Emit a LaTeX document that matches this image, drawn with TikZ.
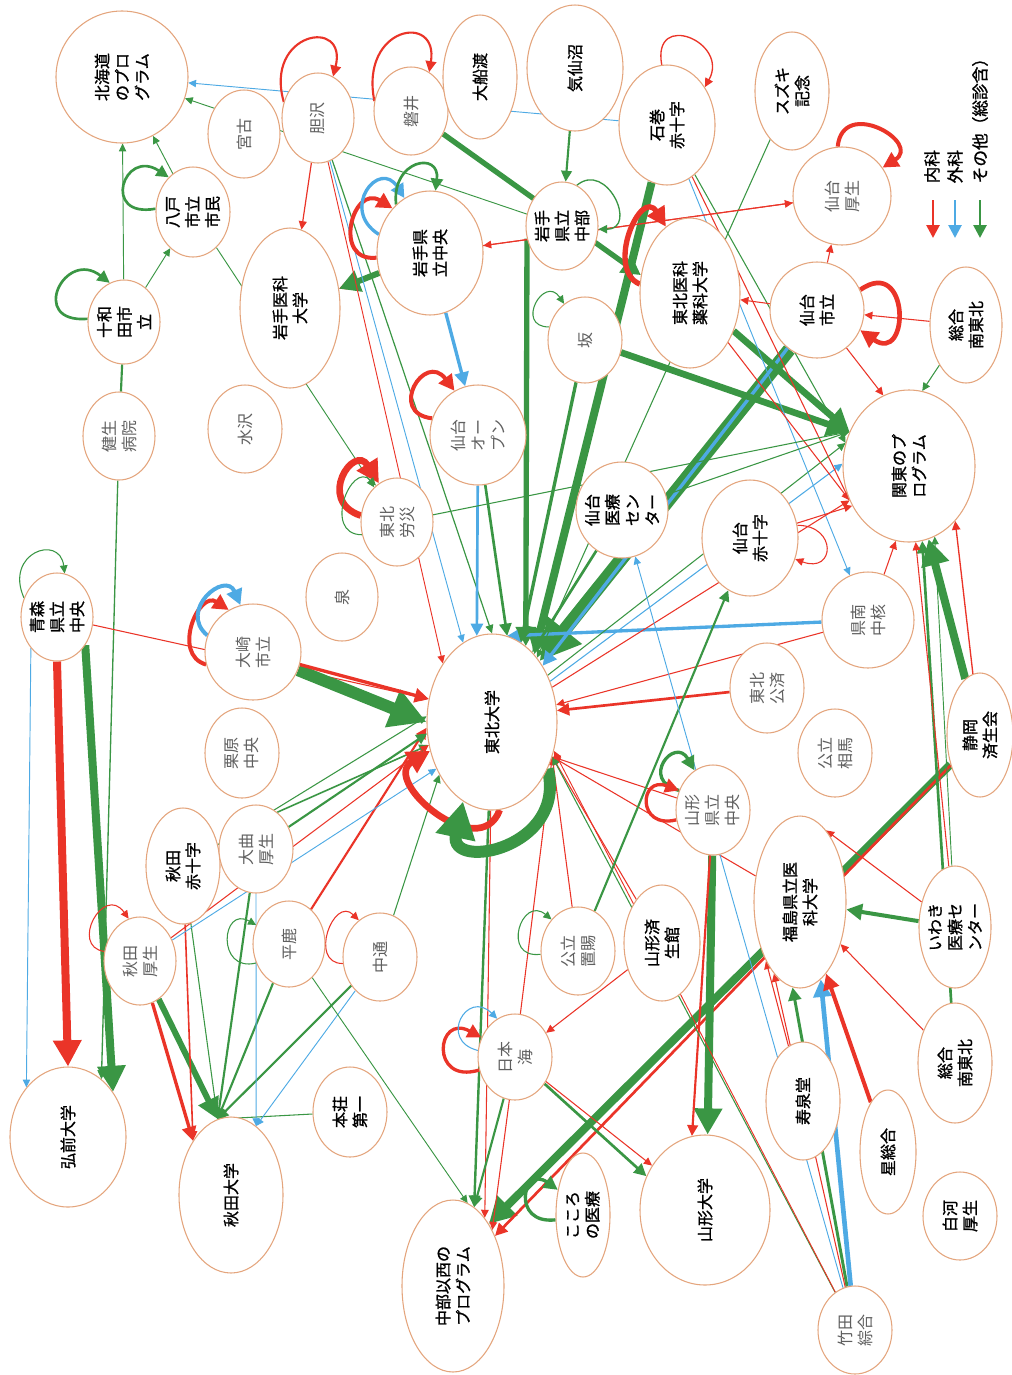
\documentclass[tikz,border=0pt]{standalone}
\usepackage{fontspec}
\setmainfont{Noto Sans CJK JP}
\newfontfamily\jpb{Noto Sans CJK JP}[FakeBold=1.2]
\usetikzlibrary{shapes.geometric,arrows.meta}
\pgfdeclarelayer{bg}
\pgfsetlayers{bg,main}
\definecolor{rd}{RGB}{234,52,40}
\definecolor{bl}{RGB}{78,170,228}
\definecolor{gn}{RGB}{58,150,68}
\definecolor{nb}{RGB}{228,165,125}
\definecolor{tg}{RGB}{95,95,95}
\newcommand\lbl{\fontsize{12pt}{15pt}\selectfont}
\tikzset{
 hn/.style={ellipse, draw=nb, line width=0.8pt, fill=white, inner sep=0pt},
 ed/.style={line width=#1, -{Triangle[length=4pt 2.6, width=3.5pt 2.8]}},
 ln/.style={line width=#1},
 R/.style={draw=rd}, Bl/.style={draw=bl}, Gn/.style={draw=gn},
}
% name, x, y, rx, ry, colour, text
\newcommand\HN[7]{%
 \node[hn, minimum width={#4*1.5pt}, minimum height={#5*1.5pt}] (#1) at (#2,#3) {};
 \node[rotate=90, align=center, text=#6, font=\lbl\jpb] at (#2,#3) {#7};}
\newcommand\HG[7]{%
 \node[hn, minimum width={#4*1.5pt}, minimum height={#5*1.5pt}] (#1) at (#2,#3) {};
 \node[rotate=90, align=center, text=#6, font=\lbl] at (#2,#3) {#7};}
\begin{document}
\begin{tikzpicture}[x=0.75pt,y=-0.75pt]
\useasboundingbox (0,0) rectangle (1012,1375);
% nodes
\HN{hok}{122}{77}{66}{66}{black}{北海道\\のプロ\\グラム}
\HG{miy}{244}{134}{36}{44}{tg}{宮古}
\HG{isa}{318}{118}{36}{45}{tg}{胆沢}
\HG{iwai}{411}{111}{37}{44}{tg}{磐井}
\HN{ofu}{480}{77}{37}{62}{black}{大船渡}
\HN{kes}{575}{68}{48}{63}{black}{気仙沼}
\HN{ishi}{667}{125}{48}{60}{black}{石巻\\赤十字}
\HN{suz}{792}{91}{37}{59}{black}{スズキ\\記念}
\HG{sko}{842}{196}{49}{49}{tg}{仙台\\厚生}
\HN{ichu}{562}{226}{36}{44}{black}{岩手\\県立\\中部}
\HN{icen}{430}{253}{53}{62}{black}{岩手県\\立中央}
\HN{imed}{290}{308}{50}{80}{black}{岩手医科\\大学}
\HN{hachi}{193}{212}{37}{45}{black}{八戸\\市立\\市民}
\HN{towa}{124}{322}{36}{42}{black}{十和\\田市\\立}
\HG{ken}{119}{436}{36}{44}{tg}{健生\\病院}
\HG{mizu}{245}{429}{37}{44}{tg}{水沢}
\HN{aocen}{57}{617}{36}{44}{black}{青森\\県立\\中央}
\HG{osaki}{253}{652}{48}{48}{tg}{大崎\\市立}
\HG{rosai}{397}{522}{36}{44}{tg}{東北\\労災}
\HG{sopen}{478}{435}{48}{50}{tg}{仙台\\オー\\プン}
\HG{izumi}{342}{597}{36}{44}{tg}{泉}
\HG{saka}{585}{340}{37}{43}{tg}{坂}
\HN{tmp}{690}{293}{50}{75}{black}{東北医科\\薬科大学}
\HN{sshi}{817}{310}{47}{48}{black}{仙台\\市立}
\HN{sne1}{966}{325}{36}{58}{black}{総合\\南東北}
\HN{kanto}{909}{466}{66}{76}{black}{関東のプ\\ログラム}
\HN{siryo}{622}{510}{46}{48}{black}{仙台\\医療\\セン\\ター}
\HN{sseki}{750}{538}{48}{58}{black}{仙台\\赤十字}
\HG{kennan}{868}{620}{46}{48}{tg}{県南\\中核}
\HG{tkosai}{767}{688}{37}{45}{tg}{東北\\公済}
\HG{soma}{835}{753}{37}{44}{tg}{公立\\相馬}
\HN{shizu}{980}{735}{33}{62}{black}{静岡\\済生会}
\HG{yken}{713}{810}{37}{45}{tg}{山形\\県立\\中央}
\HN{fmed}{800}{902}{46}{86}{black}{福島県立医\\科大学}
\HN{iwaki}{955}{927}{36}{61}{black}{いわき\\医療セ\\ンター}
\HN{sne2}{955}{1063}{37}{60}{black}{総合\\南東北}
\HN{jusen}{803}{1101}{37}{59}{black}{寿泉堂}
\HN{hoshi}{888}{1152}{28}{62}{black}{星総合}
\HN{shira}{960}{1216}{37}{44}{black}{白河\\厚生}
\HG{take}{855}{1330}{37}{44}{tg}{竹田\\綜合}
\HN{yamadai}{705}{1210}{65}{75}{black}{山形大学}
\HN{ysai}{662}{943}{38}{58}{black}{山形済\\生館}
\HG{okit}{578}{951}{37}{44}{tg}{公立\\置賜}
\HG{naka}{380}{957}{37}{44}{tg}{中通}
\HG{nihon}{515}{1057}{37}{43}{tg}{日本\\海}
\HN{honjo}{350}{1112}{37}{45}{black}{本荘\\第一}
\HN{chubu}{453}{1286}{51}{86}{black}{中部以西の\\プログラム}
\HN{kokoro}{583}{1215}{27}{62}{black}{こころ\\の医療}
\HN{akidai}{231}{1195}{52}{78}{black}{秋田大学}
\HN{hiro}{68}{1137}{58}{70}{black}{弘前大学}
\HG{akiko}{140}{961}{36}{44}{tg}{秋田\\厚生}
\HN{akiseki}{183}{866}{37}{58}{black}{秋田\\赤十字}
\HG{omag}{256}{849}{37}{44}{tg}{大曲\\厚生}
\HG{kuri}{242}{753}{37}{45}{tg}{栗原\\中央}
\HG{hira}{289}{944}{36}{43}{tg}{平鹿}
\HN{tohoku}{492}{722}{65}{88}{black}{東北大学}
% legend
\coordinate (lr1) at (933,200); \coordinate (lr2) at (933,238);
\coordinate (lb1) at (955,200); \coordinate (lb2) at (955,238);
\coordinate (lg1) at (980,200); \coordinate (lg2) at (980,238);
\draw[R, ed=2.2pt] (lr1) -- (lr2);
\draw[Bl, ed=2.2pt] (lb1) -- (lb2);
\draw[Gn, ed=2.2pt] (lg1) -- (lg2);
\node[rotate=90, anchor=west, font=\fontsize{12.5pt}{14pt}\selectfont\jpb] (t1) at (932,188) {内科};
\node[rotate=90, anchor=west, font=\fontsize{12.5pt}{14pt}\selectfont\jpb] (t2) at (955,188) {外科};
\node[rotate=90, anchor=west, font=\fontsize{12.5pt}{14pt}\selectfont\jpb] (t3) at (980,188) {その他（総診含）};
\begin{pgfonlayer}{bg}
% top-left
\draw[Bl, ed=0.7pt] (ishi) -- (hok);
\draw[Gn, ed=0.7pt] (ichu) -- (hok);
\draw[Gn, ed=0.7pt] (towa) -- (hok);
\draw[Gn, ed=0.7pt] (towa) -- (hachi);
\draw[Gn, ed=0.7pt] (hachi) -- (hok);
\draw[Gn, ln=1.6pt] (towa) -- (ken);
\draw[Gn, ed=1pt] (ken) -- (hiro.60);
\draw[Gn, ed=0.7pt] (hachi) -- (rosai);
\draw[R, ed=0.9pt] (isa) -- (imed);
\draw[R, ed=0.9pt] (icen) -- (imed);
\draw[Gn, ed=4.5pt] (icen) -- (imed);
\draw[R, ed=0.7pt] (isa) -- (tohoku.130);
\draw[Bl, ed=0.7pt] (isa) -- (tohoku.110);
\draw[Gn, ed=0.9pt] (isa) -- (tohoku.90);
\draw[Gn, ed=1.6pt] (kes) -- (ichu);
\draw[Gn, ed=4pt] (iwai) -- (tmp.160);
\draw[Gn, ed=4pt] (ichu.200) -- (tohoku.66);
\draw[Gn, ed=6pt] (ishi.-105) -- (tohoku.58);
\draw[Gn, ed=10pt] (sshi.235) -- (tohoku.52);
\draw[Bl, ed=2.5pt] (sshi) -- (tohoku.48);
\draw[Gn, ed=5pt] (tmp) -- (kanto.150);
\draw[Gn, ed=5pt] (saka) -- (kanto.150);
\draw[Gn, ed=6pt] (shizu) -- (kanto.-75);
\draw[R, ed=1pt] (shizu) -- (kanto.-50);
\draw[Gn, ed=6pt] (shizu) -- (chubu.60);
\draw[R, ed=2pt] (shizu) -- (chubu.50);
\draw[Gn, ed=6pt] (yken) -- (yamadai.88);
\draw[R, ed=1.6pt] (yken) -- (yamadai.100);
\draw[Gn, ed=3pt] (iwaki) -- (fmed);
\draw[Gn, ed=2.2pt] (take) -- (fmed.-95);
\draw[Bl, ed=3.5pt] (take) -- (fmed.-75);
\draw[R, ed=3pt] (hoshi) -- (fmed.-70);
\draw[R, ed=6pt] (aocen.-90) -- (hiro.90);
\draw[Gn, ed=6pt] (aocen.-45) -- (hiro.45);
\draw[Bl, ed=0.7pt] (aocen.-130) -- (hiro.130);
\draw[R, ed=0.8pt] (aocen) -- (tohoku.160);
\draw[Gn, ed=9pt] (osaki) -- (tohoku.180);
\draw[R, ed=2.5pt] (osaki) -- (tohoku.160);
\draw[Gn, ed=4.5pt] (akiko) -- (akidai.100);
\draw[R, ed=2.5pt] (akiko) -- (akidai.125);
\draw[R, ed=1.2pt] (akiseki) -- (akidai.125);
\draw[Gn, ed=0.8pt] (akiseki) -- (akidai.100);
\draw[Gn, ed=1.6pt] (omag) -- (akidai.100);
\draw[Gn, ed=1.6pt] (hira) -- (akidai.100);
\draw[Gn, ed=1.6pt] (naka) -- (akidai.100);
\draw[Gn, ed=0.8pt] (honjo) -- (akidai.100);
\draw[Bl, ed=0.7pt] (omag) -- (akidai.70);
\draw[Bl, ed=0.7pt] (naka) -- (akidai.70);
\draw[Bl, ed=2.5pt] (icen) -- (sopen);
\draw[Bl, ed=2pt] (sopen) -- (tohoku.100);
\draw[Bl, ed=2.5pt] (kennan) -- (tohoku.80);
\draw[R, ed=2pt] (tkosai) -- (tohoku.10);
\draw[R, ed=0.8pt] (kennan) -- (tohoku.15);
\draw[R, ed=0.8pt] (sshi) -- (kanto.110);
\draw[Gn, ed=0.8pt] (sne1) -- (kanto.80);
\draw[R, ed=0.8pt] (kennan) -- (kanto.-100);
\draw[Gn, ed=0.8pt] (tohoku.40) -- (kanto.160);
\draw[Bl, ed=0.8pt] (tohoku.35) -- (kanto.178);
\draw[R, ed=1.6pt] (hira) -- (tohoku.185);
\draw[Gn, ed=1.6pt] (omag) -- (tohoku.190);
\draw[Gn, ed=1.2pt] (omag.60) -- (tohoku.200);
\draw[Gn, ed=0.8pt] (akiseki) -- (tohoku.175);
\draw[R, ed=0.8pt] (akiko) -- (tohoku.200);
\draw[Bl, ed=0.7pt] (akiko) -- (tohoku.220);
\draw[Gn, ed=0.8pt] (naka) -- (tohoku.225);
\draw[Gn, ed=1.8pt] (tohoku) -- (chubu.75);
\draw[R, ed=0.8pt] (tohoku) -- (chubu.65);
\draw[Gn, ed=1.6pt] (nihon) -- (chubu.75);
\draw[R, ed=0.8pt] (nihon) -- (chubu.55);
\draw[Gn, ed=2pt] (nihon) -- (yamadai.150);
\draw[R, ed=0.8pt] (nihon) -- (yamadai.140);
\draw[Gn, ed=0.7pt] (hira) -- (chubu.80);
\draw[Gn, ed=2pt] (siryo) -- (tohoku.60);
\draw[Gn, ed=2.5pt] (saka) -- (tohoku.70);
\draw[Gn, ed=2pt] (sopen) -- (tohoku.80);
\draw[Gn, ed=0.8pt] (suz) -- (tohoku.55);
\draw[R, ed=0.8pt] (ishi) -- (kanto.-150);
\draw[Gn, ed=0.8pt] (ishi) -- (kanto.160);
\draw[Bl, ed=0.7pt] (ishi) -- (kennan);
\draw[R, ed=0.8pt] (tmp) -- (kanto.-150);
\draw[R, ed=0.8pt] (tohoku.30) -- (kanto.-150);
\draw[R, ed=0.8pt] (sseki) -- (kanto.-145);
\draw[Gn, ed=0.8pt] (siryo) -- (kanto.150);
\draw[Gn, ed=0.8pt] (rosai) -- (kanto.150);
\draw[R, ed=0.8pt] (fmed) -- (tohoku.-30);
\draw[R, ed=0.8pt] (yken) -- (tohoku.-30);
\draw[R, ed=0.8pt] (ysai) -- (tohoku.-30);
\draw[R, ed=0.8pt] (okit) -- (tohoku.-30);
\draw[R, ed=0.8pt] (nihon) -- (tohoku.-30);
\draw[Gn, ed=0.8pt] (take) -- (tohoku.-30);
\draw[R, ed=0.7pt] (take) -- (tohoku.-25);
\draw[Gn, ed=1.6pt] (okit) -- (sseki);
\draw[Bl, ed=0.7pt] (take) -- (siryo);
\draw[Gn, ed=2pt] (sne2) -- (kanto.-80);
\draw[R, ed=0.8pt] (sne2) -- (fmed);
\draw[R, ed=0.8pt] (iwaki) -- (kanto.-85);
\draw[Gn, ed=0.7pt] (iwaki) -- (kanto.-70);
\draw[R, ed=0.8pt] (iwaki) -- (fmed.70);
\draw[R, ed=0.8pt] (ysai) -- (nihon);
\draw[R, ed=0.8pt] (jusen) -- (fmed.-120);
\draw[R, ed=0.8pt] (take) -- (fmed.-110);
\draw[R, ed=0.8pt] (icen) -- (sko);
\draw[R, ed=0.8pt] (sko) -- (icen);
\draw[R, ed=0.8pt] (sshi) -- (sko);
\draw[R, ed=0.8pt] (sshi) -- (tmp);
\draw[R, ed=0.8pt] (sne1) -- (sshi);
% self loops
\draw[R, ed=1.6pt] (isa.155) .. controls +(-20,-70) and +(15,-60) .. (isa.70);
\draw[R, ed=1.6pt] (iwai.165) .. controls +(-15,-75) and +(10,-60) .. (iwai.65);
\draw[R, ed=1pt] (ishi.95) .. controls +(-10,-55) and +(25,-45) .. (ishi.45);
\draw[R, ed=3pt] (sko.95) .. controls +(5,-50) and +(40,-25) .. (sko.35);
\draw[R, ed=3.5pt] (sshi.25) .. controls +(50,-35) and +(50,35) .. (sshi.-25);
\draw[Gn, ed=2pt] (towa.175) .. controls +(-60,5) and +(-45,-35) .. (towa.110);
\draw[Gn, ed=2pt] (hachi.175) .. controls +(-55,10) and +(-45,-30) .. (hachi.125);
\draw[Gn, ed=0.8pt] (aocen.150) .. controls +(-20,-45) and +(-5,-40) .. (aocen.80);
\draw[R, ed=3pt] (osaki.195) .. controls +(-35,-10) and +(-30,-20) .. (osaki.120);
\draw[Bl, ed=3pt] (osaki.160) .. controls +(-30,-25) and +(-15,-35) .. (osaki.105);
\draw[R, ed=5pt] (rosai.170) .. controls +(-45,-15) and +(-25,-40) .. (rosai.115);
\draw[Gn, ed=0.8pt] (rosai.200) .. controls +(-40,0) and +(-25,-25) .. (rosai.120);
\draw[R, ed=3pt] (sopen.160) .. controls +(-45,-5) and +(-30,-40) .. (sopen.118);
\draw[Gn, ed=0.8pt] (saka.160) .. controls +(-35,0) and +(-20,-30) .. (saka.120);
\draw[Gn, ed=1pt] (ichu.70) .. controls +(30,-25) and +(40,0) .. (ichu.-5);
\draw[R, ed=3pt] (icen.185) .. controls +(-45,5) and +(-40,-25) .. (icen.130);
\draw[Bl, ed=2.5pt] (icen.160) .. controls +(-40,-25) and +(-25,-40) .. (icen.115);
\draw[Gn, ed=2pt] (icen.125) .. controls +(-5,-45) and +(5,-40) .. (icen.85);
\draw[R, ed=4pt] (tmp.170) .. controls +(-35,-15) and +(-25,-40) .. (tmp.110);
\draw[R, ed=0.8pt] (sseki.15) .. controls +(40,0) and +(40,15) .. (sseki.-25);
\draw[Gn, ed=2.5pt] (yken.150) .. controls +(-40,-10) and +(-20,-35) .. (yken.115);
\draw[R, ed=2.5pt] (yken.195) .. controls +(-40,10) and +(-40,-15) .. (yken.150);
\draw[R, ed=5pt] (tohoku.-85) .. controls +(-20,55) and +(-50,30) .. (tohoku.205);
\draw[Gn, ed=9pt] (tohoku.-40) .. controls +(20,80) and +(-15,70) .. (tohoku.-110);
\draw[R, ed=2.5pt] (nihon.200) .. controls +(-50,15) and +(-45,-25) .. (nihon.150);
\draw[Bl, ed=0.8pt] (nihon.170) .. controls +(-40,-10) and +(-30,-30) .. (nihon.115);
\draw[Gn, ed=2.5pt] (kokoro.190) .. controls +(-45,5) and +(-35,-25) .. (kokoro.135);
\draw[Gn, ed=0.8pt] (okit.185) .. controls +(-40,5) and +(-30,-25) .. (okit.130);
\draw[Gn, ed=0.8pt] (hira.210) .. controls +(-40,10) and +(-35,-20) .. (hira.150);
\draw[R, ed=0.8pt] (akiko.165) .. controls +(-35,-5) and +(-25,-35) .. (akiko.105);
\draw[R, ed=0.8pt] (naka.190) .. controls +(-35,0) and +(-25,-25) .. (naka.120);
\end{pgfonlayer}
\end{tikzpicture}
\end{document}
